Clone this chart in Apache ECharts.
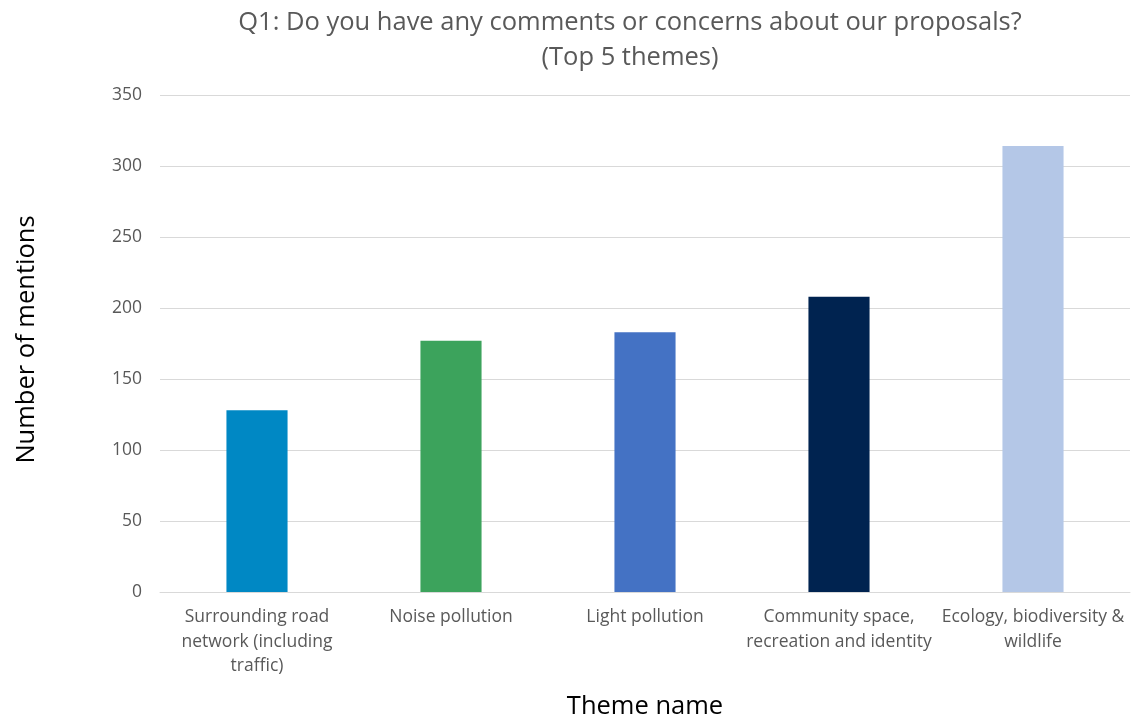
<!DOCTYPE html>
<html><head><meta charset="utf-8">
<script src="https://cdn.jsdelivr.net/npm/echarts@6/dist/echarts.min.js"></script>
<style>html,body{margin:0;padding:0;background:#fff}#c{width:1131px;height:722px}</style>
</head><body><div id="c"></div>
<script>
const categories = ["Surrounding road\nnetwork (including\ntraffic)", "Noise pollution", "Light pollution", "Community space,\nrecreation and identity", "Ecology, biodiversity &\nwildlife"];
const values = [128, 177, 183, 208, 314];
const colors = ["#0088C4", "#3CA35C", "#4472C4", "#002350", "#B4C7E7"];
const yTicks = [0, 350, 50];
const titleText = "Q1: Do you have any comments or concerns about our proposals?\n(Top 5 themes)";
const FONT = "Open Sans";
const chart = echarts.init(document.getElementById('c'));
chart.setOption({
  animation: false,
  backgroundColor: '#fff',
  title: {
    text: titleText, left: 625, top: 0, textAlign: 'center',
    textStyle: {fontFamily: FONT, fontSize: 25.5, fontWeight: 'normal', color: '#595959', lineHeight: 35, align: 'center'}
  },
  grid: {left: 160, right: 1, top: 95, bottom: 130, containLabel: false, outerBoundsMode: 'none'},
  xAxis: {
    type: 'category', data: categories,
    name: 'Theme name', nameLocation: 'middle', nameGap: 102,
    nameTextStyle: {fontFamily: FONT, fontSize: 25.5, color: '#000'},
    axisLine: {lineStyle: {color: '#D9D9D9'}},
    axisTick: {show: false},
    axisLabel: {fontFamily: FONT, fontSize: 17.5, color: '#595959', lineHeight: 24.5, margin: 13, interval: 0}
  },
  yAxis: {
    type: 'value', min: yTicks[0], max: yTicks[1], interval: yTicks[2],
    name: 'Number of mentions', nameLocation: 'middle', nameGap: 120,
    nameTextStyle: {fontFamily: FONT, fontSize: 25.5, color: '#000', padding: [0, 0, 0, 8]},
    axisLine: {show: false}, axisTick: {show: false},
    splitLine: {lineStyle: {color: '#D9D9D9'}},
    axisLabel: {fontFamily: FONT, fontSize: 17.5, color: '#595959', margin: 18}
  },
  series: [{
    type: 'bar', barWidth: '31.5%',
    data: values.map((v, i) => ({value: v, itemStyle: {color: colors[i]}}))
  }]
});
</script></body></html>
